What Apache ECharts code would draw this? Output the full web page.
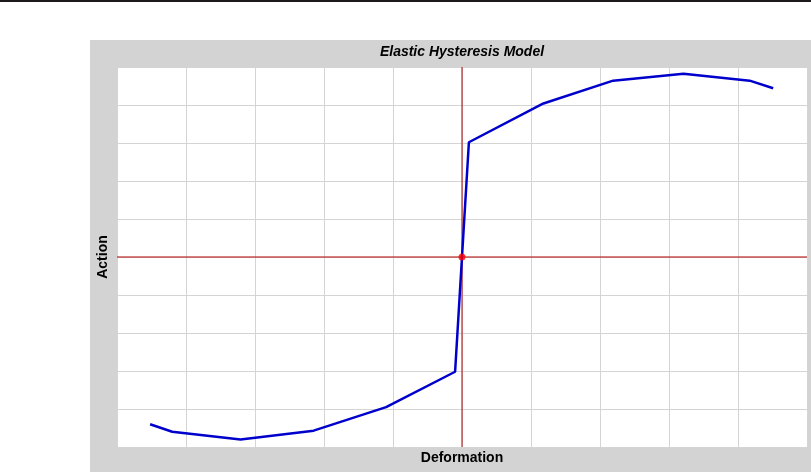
<!DOCTYPE html>
<html>
<head>
<meta charset="utf-8">
<script src="https://cdn.jsdelivr.net/npm/echarts@6/dist/echarts.min.js"></script>
<style>html,body{margin:0;padding:0;background:#fff;}#c{width:811px;height:472px;}</style>
</head>
<body>
<div id="c"></div>
<script>
var title = 'Elastic Hysteresis Model';
var xName = 'Deformation';
var yName = 'Action';
var deformation = [-4.52, -4.2, -3.21, -2.15, -1.1, -0.1, 0, 0.1, 1.18, 2.19, 3.21, 4.17, 4.51];
var action = [-4.4, -4.6, -4.8, -4.57, -3.95, -3.02, 0, 3.02, 4.04, 4.64, 4.82, 4.64, 4.44];
var origin = [[0, 0]];
var axisRange = [-5, 5];

var pts = deformation.map(function (d, i) { return [d, action[i]]; });
var chart = echarts.init(document.getElementById('c'), null, {renderer: 'canvas'});
var font = '"Liberation Sans", Arial, sans-serif';
var redAxis = {color: '#b00000', width: 1, type: 'solid'};
chart.setOption({
  animation: false,
  backgroundColor: '#ffffff',
  graphic: [
    {type: 'rect', z: -10, shape: {x: 0, y: 0, width: 811, height: 2}, style: {fill: '#1c1a1a'}},
    {type: 'rect', z: -10, shape: {x: 90, y: 40, width: 721, height: 432}, style: {fill: '#d3d3d3'}},
    {type: 'text', x: 462, y: 52, style: {text: title, x: 0, y: 0, textAlign: 'center', textVerticalAlign: 'middle', font: 'italic bold 14px ' + font, fill: '#000'}},
    {type: 'text', x: 462, y: 458, style: {text: xName, x: 0, y: 0, textAlign: 'center', textVerticalAlign: 'middle', font: 'bold 14px ' + font, fill: '#000'}},
    {type: 'text', x: 103, y: 257, rotation: Math.PI / 2, style: {text: yName, x: 0, y: 0, textAlign: 'center', textVerticalAlign: 'middle', font: 'bold 14px ' + font, fill: '#000'}}
  ],
  grid: {left: 117, top: 67, width: 690, height: 380, show: true, backgroundColor: '#ffffff', borderWidth: 0},
  xAxis: {type: 'value', min: -5, max: 5, interval: 1,
    axisLine: {show: false}, axisTick: {show: false}, axisLabel: {show: false},
    splitLine: {show: true, lineStyle: {color: '#d4d4d4', width: 1}}},
  yAxis: {type: 'value', min: -5, max: 5, interval: 1,
    axisLine: {show: false}, axisTick: {show: false}, axisLabel: {show: false},
    splitLine: {show: true, lineStyle: {color: '#d4d4d4', width: 1}}},
  series: [
    {type: 'line', data: [[axisRange[0], 0], [axisRange[1], 0]], symbol: 'none', z: 2, lineStyle: redAxis, silent: true},
    {type: 'line', data: [[0, axisRange[0]], [0, axisRange[1]]], symbol: 'none', z: 2, lineStyle: redAxis, silent: true},
    {type: 'line', data: pts, showSymbol: false, symbol: 'none', z: 3,
      lineStyle: {color: '#0000cc', width: 2.5}},
    {type: 'scatter', data: origin, symbolSize: 7, z: 5, itemStyle: {color: '#ff0000'}}
  ]
});
</script>
</body>
</html>
